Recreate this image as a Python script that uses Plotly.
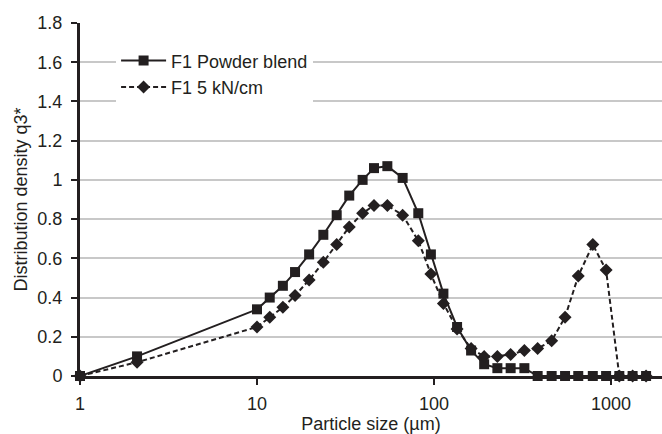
import plotly.graph_objects as go

# Particle size classes (µm)
particle_size = [1, 2.1, 10, 11.8, 14, 16.4, 19.7, 23.7, 28.2, 33.2, 39.5, 45.8,
                 54.5, 66.5, 81.5, 96, 113, 135, 162, 192, 228, 271, 324, 385,
                 462, 550, 653, 789, 938, 1114, 1324, 1578]

# Distribution density q3* for each sample
powder_blend = [0, 0.10, 0.34, 0.40, 0.46, 0.53, 0.62, 0.72, 0.82, 0.92, 1.00, 1.06,
                1.07, 1.01, 0.83, 0.62, 0.42, 0.25, 0.13, 0.06, 0.04, 0.04, 0.04, 0,
                0, 0, 0, 0, 0, 0, 0, 0]
ribbon_5kn = [0, 0.07, 0.25, 0.30, 0.35, 0.41, 0.49, 0.58, 0.67, 0.76, 0.83, 0.87,
              0.87, 0.82, 0.69, 0.52, 0.37, 0.24, 0.14, 0.10, 0.10, 0.11, 0.13, 0.14,
              0.18, 0.30, 0.51, 0.67, 0.54, 0, 0, 0]

y_ticks = [0, 0.2, 0.4, 0.6, 0.8, 1.0, 1.2, 1.4, 1.6, 1.8]
x_ticks = [1, 10, 100, 1000]

INK = "#231f20"
FONT = "Liberation Sans, Arial, sans-serif"
FS = 18

fig = go.Figure()
fig.add_trace(go.Scatter(
    x=particle_size, y=powder_blend, name="F1 Powder blend",
    mode="lines+markers", cliponaxis=False,
    line=dict(color=INK, width=2),
    marker=dict(symbol="square", size=10, color=INK),
))
fig.add_trace(go.Scatter(
    x=particle_size, y=ribbon_5kn, name="F1 5 kN/cm",
    mode="lines+markers", cliponaxis=False,
    line=dict(color=INK, width=2, dash="5px,3px"),
    marker=dict(symbol="diamond", size=10, color=INK),
))

fig.update_layout(
    width=662, height=434,
    margin=dict(l=80, r=0, t=23, b=58),
    paper_bgcolor="white", plot_bgcolor="white",
    font=dict(family=FONT, size=FS, color=INK),
    showlegend=True,
    legend=dict(
        x=0.062, y=0.945, xanchor="left", yanchor="top",
        bgcolor="white", borderwidth=0, itemwidth=45,
        font=dict(family=FONT, size=FS, color=INK),
        tracegroupgap=0,
    ),
    xaxis=dict(
        type="log", range=[0, 3.288],
        tickvals=x_ticks, ticktext=[str(v) for v in x_ticks],
        ticks="outside", ticklen=6, tickwidth=1.5, tickcolor=INK,
        ticklabelstandoff=3,
        showline=True, linewidth=3, linecolor=INK,
        showgrid=False, zeroline=False,
        title=dict(text="Particle size (µm)", standoff=8,
                   font=dict(family=FONT, size=FS, color=INK)),
        tickfont=dict(family=FONT, size=FS, color=INK),
    ),
    yaxis=dict(
        range=[0, 1.8],
        tickvals=y_ticks, ticktext=[f"{v:g}" for v in y_ticks],
        ticks="outside", ticklen=6, tickwidth=1.5, tickcolor=INK,
        ticklabelstandoff=5,
        showline=True, linewidth=3, linecolor=INK,
        showgrid=True, gridcolor="#c8c8c8", gridwidth=2,
        zeroline=False,
        title=dict(text="Distribution density q3*", standoff=6,
                   font=dict(family=FONT, size=FS, color=INK)),
        tickfont=dict(family=FONT, size=FS, color=INK),
    ),
)

fig.write_html("out.html")
